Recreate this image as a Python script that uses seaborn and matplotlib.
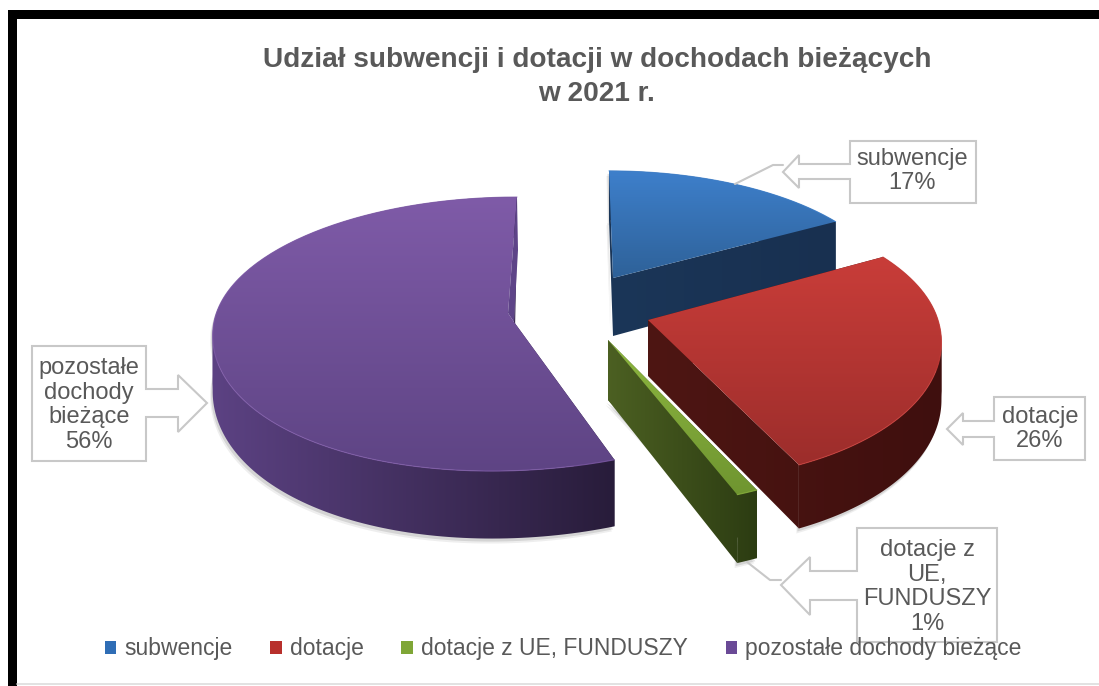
import numpy as np
import matplotlib
matplotlib.use("Agg")
import matplotlib.pyplot as plt
from matplotlib.patches import Patch, Polygon, Rectangle
import seaborn as sns

sns.set_theme(style="white")
plt.rcParams['font.family'] = ['Liberation Sans', 'DejaVu Sans']

# data
categories = ['subwencje', 'dotacje', 'dotacje z UE, FUNDUSZY', 'pozostałe dochody bieżące']
shares = [17, 26, 1, 56]
title = 'Udział subwencji i dotacji w dochodach bieżących\nw 2021 r.'

# where every exploded slice sits on the page (pixels)
apex_x = [613, 648, 608, 514]
apex_y = [278, 320, 340, 322]
radius_x = [275, 290, 308, 300]
radius_y = [126, 141, 146, 137]
persp = [0.15, 0.15, 0.15, 0.088]
lean = [0, 13, 0, -22]
lean_back = [-4, -4, 0, 3]
depth = [58, 56, 60, 54]
depth_grow = [0.15, 0.15, 0.15, 0.25]
top_colors = [('#3E80CC', '#2E6198'), ('#C93D39', '#9C2D2B'), ('#8DB640', '#6F9530'), ('#7F5BA8', '#5E4484')]
wall_colors = [('#1B3658', '#183050'), ('#4E1613', '#3F0F0E'), ('#4C6022', '#2C3C12'), ('#5C4283', '#281C3A')]
legend_colors = ['#2F6DB5', '#B8302C', '#7FA636', '#6A4A96']

TEXT = '#595959'
LINE = '#C8C8C8'


def top_point(i, t):
    u, v = np.sin(t), -np.cos(t)
    scale = 1 + persp[i] * v
    shift = np.where(v > 0, lean[i], lean_back[i]) * v ** 2
    return apex_x[i] + radius_x[i] * u * scale + shift, apex_y[i] + radius_y[i] * v * scale


def drop(i, t):
    return depth[i] * (1 + depth_grow[i] * (-np.cos(t)))


def shade(ax, poly, cmap, extent, vertical, z):
    # gradient image clipped to one face of the slice
    grad = np.linspace(0, 1, 256)
    grad = grad.reshape(-1, 1) if vertical else grad.reshape(1, -1)
    im = ax.imshow(grad, cmap=cmap, aspect='auto', zorder=z, extent=extent, interpolation='bilinear')
    im.set_clip_path(Polygon(poly, closed=True, transform=ax.transData))


def draw_slice(ax, i, t0, t1, z):
    ts = np.linspace(t0, t1, 160)
    px, py = top_point(i, ts)
    d = drop(i, ts)
    x = np.r_[apex_x[i], px]
    y = np.r_[apex_y[i], py]
    y_hi = max((py + d).max(), apex_y[i] + depth[i]) + 5
    y_lo = y.min() - 5
    wide = (x.min() - 1, x.max() + 1, y_hi, y_lo)
    wall = sns.blend_palette(wall_colors[i], as_cmap=True)

    # soft shadow under the slice
    sx = np.r_[apex_x[i], px, px[::-1]]
    sy = np.r_[apex_y[i] + depth[i], py + d, py[::-1]]
    for off, a in [(5, 0.07), (3, 0.12)]:
        ax.add_patch(Polygon(np.c_[sx - off / 2, sy + off], fc='k', ec='none', alpha=a, zorder=z))

    # the two cut faces and the curved wall
    for t in (t0, t1):
        ex, ey = top_point(i, t)
        face = [(apex_x[i], apex_y[i]), (ex, ey), (ex, ey + drop(i, t)), (apex_x[i], apex_y[i] + depth[i])]
        shade(ax, face, wall, wide, False, z + 0.1)
    # wall is split where the rim turns back, otherwise the clip polygon folds on itself
    cuts = sorted({0, int(px.argmin()), int(px.argmax()), len(px) - 1})
    for a, b in zip(cuts[:-1], cuts[1:]):
        sx_, sy_, sd = px[a:b + 1], py[a:b + 1], d[a:b + 1]
        shade(ax, np.c_[np.r_[sx_, sx_[::-1]], np.r_[sy_, (sy_ + sd)[::-1]]], wall, wide, False, z + 0.2)

    # purple: the small inner face seen next to the upright cut
    if i == 3:
        ex, ey = top_point(i, t1)
        inner = (apex_x[i] - 6, apex_y[i] - 9)
        sliver = [inner, (ex, ey), (ex + 1, ey + 53), (apex_x[i], apex_y[i])]
        ax.add_patch(Polygon(sliver, closed=True, fc='#5E4488', ec='none', zorder=z + 0.5))
        x = np.r_[x, inner[0]]
        y = np.r_[y, inner[1]]

    # top face with a vertical gradient and a thin light rim
    cmap = sns.blend_palette(top_colors[i], as_cmap=True)
    shade(ax, np.c_[x, y], cmap, (x.min() - 1, x.max() + 1, y.max() + 1, y.min() - 1), True, z + 0.3)
    ax.plot(px, py, color=top_colors[i][0], lw=0.8, alpha=0.8, zorder=z + 0.4)


def callout(ax, box, tip, head_x, head_y, shaft_y):
    x0, y0, x1, y1 = box
    near = x0 if tip[0] < x0 else x1
    pts = [(near, y0), (near, shaft_y[0]), (head_x, shaft_y[0]), (head_x, head_y[0]), tip,
           (head_x, head_y[1]), (head_x, shaft_y[1]), (near, shaft_y[1]), (near, y1)]
    far = x1 if near == x0 else x0
    pts += [(far, y1), (far, y0)]
    ax.add_patch(Polygon(pts, closed=True, fc='white', ec=LINE, lw=1.5, zorder=10))


fig = plt.figure(figsize=(10.99, 6.86), dpi=100, facecolor='white')
ax = fig.add_axes([0, 0, 1, 1])

angles = np.cumsum([0] + shares) / sum(shares) * 2 * np.pi
order = [3, 0, 1, 2]
for n, i in enumerate(order):
    draw_slice(ax, i, angles[i], angles[i + 1], 2 + n)

ax.set_xlim(0, 1099)
ax.set_ylim(686, 0)
ax.axis('off')

# frame of the screenshot
ax.add_patch(Rectangle((8, 10), 9, 676, fc='black', ec='none', zorder=20))
ax.add_patch(Rectangle((8, 10), 1091, 9, fc='black', ec='none', zorder=20))
ax.plot([17, 1099], [684, 684], color='#DDDDDD', lw=1.2, zorder=20)

ax.text(597, 77, title, ha='center', va='center', fontsize=20.2, fontweight='bold',
        color=TEXT, linespacing=1.42, zorder=12)

# leader lines
ax.plot([783, 773, 735], [165, 165, 184], color=LINE, lw=1.5, zorder=9)
ax.plot([781, 770, 747], [580, 580, 562], color=LINE, lw=1.5, zorder=9)

callout(ax, (850, 141, 976, 203), (783, 172), 799, (155, 188), (164, 179))
callout(ax, (994, 397, 1085, 460), (947, 429), 963, (413, 445), (421, 437))
callout(ax, (857, 528, 997, 642), (781, 585), 810, (557, 615), (571, 600))
callout(ax, (32, 346, 146, 461), (207, 403), 178, (375, 432), (389, 417))

labels = [('subwencje\n17%', 912, 171), ('dotacje\n26%', 1040, 429),
          ('dotacje z\nUE,\nFUNDUSZY\n1%', 927, 587), ('pozostałe\ndochody\nbieżące\n56%', 89, 405)]
for txt, lx, ly in labels:
    ax.text(lx, ly, txt, ha='center', va='center', fontsize=17, color=TEXT, linespacing=1.16, zorder=11)

handles = [Patch(fc=c, ec='none', label=name) for c, name in zip(legend_colors, categories)]
leg = ax.legend(handles=handles, loc='center', bbox_to_anchor=(563, 649), bbox_transform=ax.transData,
                ncol=4, frameon=False, fontsize=16.5, labelcolor=TEXT, handlelength=0.5, handleheight=0.5,
                handletextpad=0.35, columnspacing=1.65, borderpad=0)
leg.set_zorder(13)

fig.savefig('out.png', dpi=100)
